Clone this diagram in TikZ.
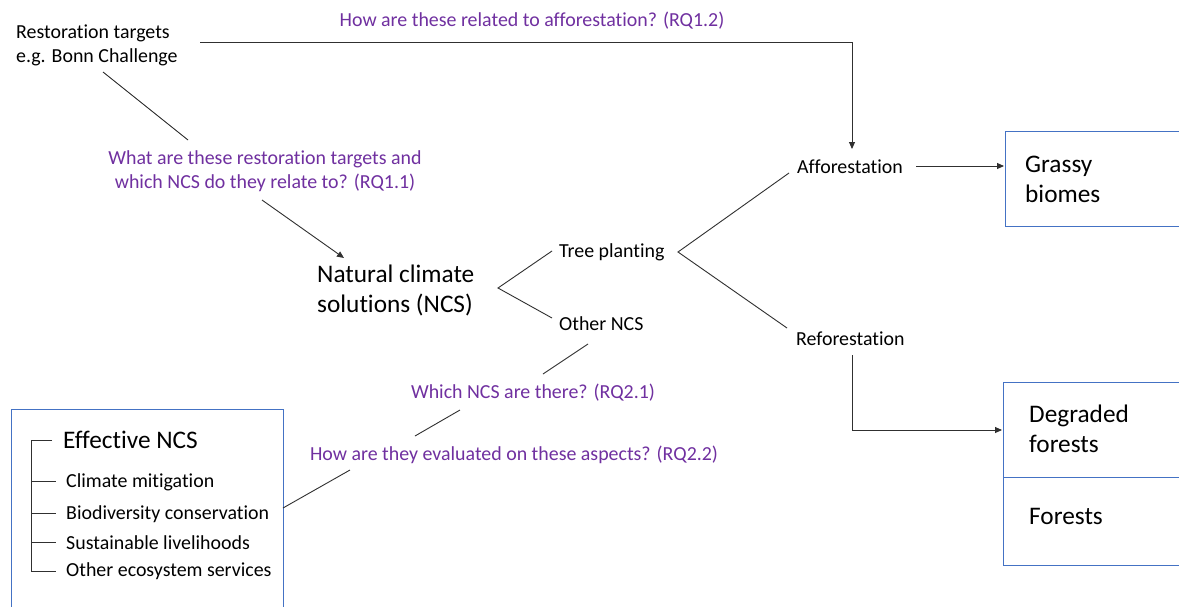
\documentclass[tikz,border=0pt]{standalone}
\usepackage{fontspec}
\setmainfont{Carlito}[Ligatures=NoCommon]
\usetikzlibrary{arrows.meta}
\definecolor{rqpurple}{HTML}{7030A0}
\definecolor{boxblue}{HTML}{4472C4}
\definecolor{linegray}{HTML}{303030}
\begin{document}
\begin{tikzpicture}[x=1pt,y=-1pt,
  txt/.style={font=\fontsize{19.9}{24}\selectfont, inner sep=0pt, align=left, anchor=west},
  bigtxt/.style={font=\fontsize{25.3}{30}\selectfont, inner sep=0pt, align=left, anchor=west},
  rq/.style={font=\fontsize{19.9}{24.5}\selectfont, inner sep=0pt, align=center, text=rqpurple},
  conn/.style={draw=linegray, line width=0.9pt},
  arr/.style={conn, -{Triangle[length=7pt,width=6pt]}},
  bluebox/.style={draw=boxblue, line width=0.9pt},
  tick/.style={draw=linegray, line width=0.9pt}]
\clip (0,0) rectangle (1179,606);
\fill[white] (0,0) rectangle (1179,606);

% text nodes
\node[txt] (rest) at (16,45) {Restoration targets\\e.g. Bonn Challenge};
\node[rq] (rq12) at (532,21) {How are these related to afforestation? (RQ1.2)};
\node[rq] (rq11) at (265,171) {What are these restoration targets and\\which NCS do they relate to? (RQ1.1)};
\node[bigtxt] (ncs) at (317,290) {Natural climate\\solutions (NCS)};
\node[txt] (tree) at (559,252) {Tree planting};
\node[txt] (other) at (559,324) {Other NCS};
\node[txt] (affor) at (797,167) {Afforestation};
\node[txt] (refor) at (796,339) {Reforestation};
\node[rq] (rq21) at (533,393) {Which NCS are there? (RQ2.1)};
\node[rq] (rq22) at (514,455) {How are they evaluated on these aspects? (RQ2.2)};

% boxes
\draw[bluebox] (1005,131) rectangle (1200,226);
\node[bigtxt] (grassy) at (1025,179) {Grassy\\biomes};
\draw[bluebox] (1003,382) rectangle (1200,565);
\draw[bluebox] (1003,477) -- (1200,477);
\node[bigtxt] (degr) at (1029,429) {Degraded\\forests};
\node[bigtxt] (forests) at (1029,516) {Forests};

\draw[bluebox] (11,409) rectangle (283,630);
\node[bigtxt] (eff) at (63,440) {Effective NCS};
\node[txt] (cm) at (66,482) {Climate mitigation};
\node[txt] (bc) at (66,514) {Biodiversity conservation};
\node[txt] (sl) at (66,543) {Sustainable livelihoods};
\node[txt] (oes) at (66,571) {Other ecosystem services};

% coordinates for connector ends
\coordinate (restR) at (200,42);
\coordinate (corner1) at (852,42);
\coordinate (afforT) at (852,149);
\coordinate (restB) at (103,72);
\coordinate (rq11T) at (188,140);
\coordinate (rq11B) at (262,200);
\coordinate (ncsT) at (344,258);
\coordinate (ncsR) at (498,288);
\coordinate (treeL) at (552,251);
\coordinate (otherL) at (552,318);
\coordinate (treeR) at (678,252);
\coordinate (afforL) at (789,173);
\coordinate (reforL) at (787,328);
\coordinate (afforR) at (916,166);
\coordinate (grassyL) at (1004,166);
\coordinate (reforB) at (852,355);
\coordinate (corner2) at (852,430);
\coordinate (degrL) at (1002,430);
\coordinate (otherB) at (588,344);
\coordinate (rq21T) at (543,374);
\coordinate (rq21B) at (460,410);
\coordinate (rq22T) at (415,436);
\coordinate (rq22B) at (350,470);
\coordinate (boxR) at (283,508);

% connectors
\draw[arr] (restR) -- (corner1) -- (afforT);
\draw[conn] (restB) -- (rq11T);
\draw[arr] (rq11B) -- (ncsT);
\draw[conn] (treeL) -- (ncsR) -- (otherL);
\draw[conn] (afforL) -- (treeR) -- (reforL);
\draw[arr] (afforR) -- (grassyL);
\draw[arr] (reforB) -- (corner2) -- (degrL);
\draw[conn] (otherB) -- (rq21T);
\draw[conn] (rq21B) -- (rq22T);
\draw[conn] (rq22B) -- (boxR);

% tree in effective NCS box
\coordinate (trTop) at (31,440);
\coordinate (trBot) at (31,571);
\draw[tick] (52,440) -- (trTop) -- (trBot) -- (56,571);
\draw[tick] (31,481) -- (56,481);
\draw[tick] (31,513) -- (56,513);
\draw[tick] (31,542) -- (56,542);
\end{tikzpicture}
\end{document}
